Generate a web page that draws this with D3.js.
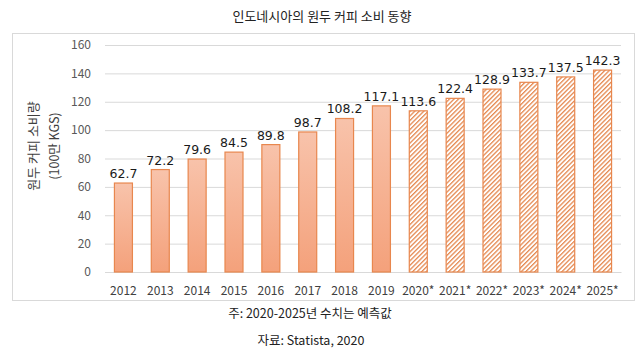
<!DOCTYPE html>
<html><head><meta charset="utf-8">
<script src="https://cdn.jsdelivr.net/npm/d3@7"></script>
<style>body{margin:0;background:#fff;} text{font-family:"Noto Sans CJK KR","Noto Sans",sans-serif;}</style>
</head><body><svg id="c" width="644" height="357"></svg>
<script>
const categories = ["2012","2013","2014","2015","2016","2017","2018","2019","2020*","2021*","2022*","2023*","2024*","2025*"];
const values = [62.7,72.2,79.6,84.5,89.8,98.7,108.2,117.1,113.6,122.4,128.9,133.7,137.5,142.3];
const forecast = [false,false,false,false,false,false,false,false,true,true,true,true,true,true];
const yTicks = [0,20,40,60,80,100,120,140,160];
const title = "인도네시아의 원두 커피 소비 동향";
const yLabel1 = "원두 커피 소비량";
const yLabel2 = "(100만 KGS)";
const note = "주: 2020-2025년 수치는 예측값";
const source = "자료: Statista, 2020";

const svg = d3.select("#c");
const defs = svg.append("defs");
const grad = defs.append("linearGradient").attr("id","g").attr("x1",0).attr("y1",0).attr("x2",0).attr("y2",1);
grad.append("stop").attr("offset","0%").attr("stop-color","#f8c3ab");
grad.append("stop").attr("offset","100%").attr("stop-color","#f4a17b");
const pat = defs.append("pattern").attr("id","h").attr("patternUnits","userSpaceOnUse")
  .attr("width",3.2).attr("height",3.2).attr("patternTransform","rotate(45)");
pat.append("rect").attr("width",3.2).attr("height",3.2).attr("fill","#fff");
pat.append("rect").attr("x",0).attr("y",0).attr("width",1.3).attr("height",3.2).attr("fill","#e58a52");

svg.append("rect").attr("x",12.5).attr("y",33.5).attr("width",622).attr("height",267)
  .attr("fill","none").attr("stroke","#d9d9d9");

svg.append("text").attr("x",322).attr("y",21).attr("text-anchor","middle")
  .attr("font-size",13).attr("fill","#222").text(title);

const x = d3.scaleBand().domain(categories).range([105,621]).paddingInner(0.5).paddingOuter(0.25);
const y = d3.scaleLinear().domain([0,160]).range([272,45]);

const gy = svg.append("g").attr("transform","translate(105,0)")
  .call(d3.axisLeft(y).tickValues(yTicks).tickSize(-516).tickPadding(14));
gy.select(".domain").remove();
gy.selectAll(".tick line").attr("stroke","#d9d9d9");
gy.selectAll(".tick text").attr("font-size",12).attr("fill","#595959");

const gx = svg.append("g").attr("transform","translate(0,272)")
  .call(d3.axisBottom(x).tickSize(0).tickPadding(14));
gx.select(".domain").attr("stroke","#d9d9d9");
gx.selectAll(".tick text").attr("font-size",12).attr("fill","#404040");

const bw = 18;
svg.append("g").selectAll("rect").data(categories).join("rect")
  .attr("x",(d)=>x(d)+x.bandwidth()/2-bw/2)
  .attr("y",(d,i)=>y(values[i]))
  .attr("width",bw)
  .attr("height",(d,i)=>y(0)-y(values[i]))
  .attr("fill",(d,i)=>forecast[i]?"url(#h)":"url(#g)")
  .attr("stroke","#e8874e").attr("stroke-width",1.2);

svg.append("g").selectAll("text").data(categories).join("text")
  .attr("x",(d)=>x(d)+x.bandwidth()/2)
  .attr("y",(d,i)=>y(values[i])-5)
  .attr("text-anchor","middle").attr("font-size",12.5)
  .attr("fill","#1a1a1a")
  .style("font-family","'DejaVu Sans',sans-serif")
  .text((d,i)=>values[i].toFixed(1));

svg.append("text").attr("transform","translate(38,146) rotate(-90)").attr("text-anchor","middle")
  .attr("font-size",13).attr("fill","#404040").text(yLabel1);
svg.append("text").attr("transform","translate(59,146) rotate(-90)").attr("text-anchor","middle")
  .attr("font-size",12.5).attr("fill","#404040").text(yLabel2);

svg.append("text").attr("x",310).attr("y",318).attr("text-anchor","middle")
  .attr("font-size",12.5).attr("fill","#222").text(note);
svg.append("text").attr("x",311).attr("y",345).attr("text-anchor","middle")
  .attr("font-size",12.5).attr("fill","#222").text(source);
</script></body></html>
